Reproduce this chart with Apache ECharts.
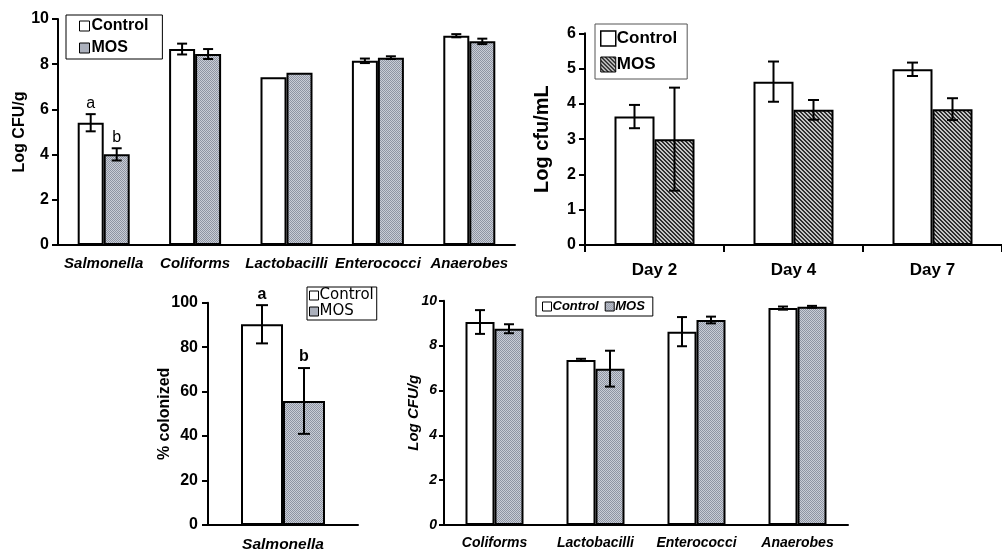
<!DOCTYPE html>
<html><head><meta charset="utf-8">
<script src="https://cdn.jsdelivr.net/npm/echarts@6/dist/echarts.min.js"></script>
<style>html,body{margin:0;padding:0;background:#fff}#c{width:1002px;height:553px}</style>
</head><body><div id="c"></div>
<script>
// ---- Panel 1 (top-left) ----
const cat1 = ['Salmonella','Coliforms','Lactobacilli','Enterococci','Anaerobes'];
const ctl1 = [5.41, 8.67, 7.42, 8.15, 9.26];
const ctl1Err = [0.38, 0.24, 0, 0.10, 0.07];
const mos1 = [4.01, 8.45, 7.62, 8.29, 9.01];
const mos1Err = [0.27, 0.22, 0, 0.06, 0.12];
const sig1Ctl = ['a','','','',''];
const sig1Mos = ['b','','','',''];
// ---- Panel 2 (top-right) ----
const cat2 = ['Day 2','Day 4','Day 7'];
const ctl2 = [3.64, 4.63, 4.98];
const ctl2Err = [0.33, 0.57, 0.19];
const mos2 = [3.00, 3.83, 3.85];
const mos2Err = [1.46, 0.28, 0.31];
// ---- Panel 3 (bottom-left) ----
const cat3 = ['Salmonella'];
const ctl3 = [90.3];
const ctl3Err = [8.6];
const mos3 = [55.8];
const mos3Err = [14.8];
const sig3Ctl = ['a'];
const sig3Mos = ['b'];
// ---- Panel 4 (bottom-right) ----
const cat4 = ['Coliforms','Lactobacilli','Enterococci','Anaerobes'];
const ctl4 = [9.05, 7.36, 8.62, 9.67];
const ctl4Err = [0.53, 0.05, 0.65, 0.07];
const mos4 = [8.75, 6.97, 9.14, 9.73];
const mos4Err = [0.20, 0.80, 0.15, 0.04];

const FF = '"Liberation Sans", Arial, sans-serif';

function checker(){
  const c = document.createElement('canvas'); c.width = 2; c.height = 2;
  const g = c.getContext('2d');
  g.fillStyle = '#c9cdd6'; g.fillRect(0,0,2,2);
  g.fillStyle = '#8e94a2'; g.fillRect(0,0,1,1); g.fillRect(1,1,1,1);
  return {image: c, repeat: 'repeat'};
}
function hatch(){
  const c = document.createElement('canvas'); c.width = 4; c.height = 4;
  const g = c.getContext('2d');
  g.fillStyle = '#c4c4c4'; g.fillRect(0,0,4,4);
  g.fillStyle = '#2e2e2e';
  for (let y=0;y<4;y++) for (let x=0;x<4;x++){ const d=((x-y)%4+4)%4; if(d===0||d===1) g.fillRect(x,y,1,1); }
  return {image: c, repeat: 'repeat'};
}
const CHK = checker();
const HAT = hatch();

function errSeries(idx, vals, errs, offset, cap, letters, fontCss){
  return {
    type: 'custom', xAxisIndex: idx, yAxisIndex: idx, z: 5, silent: true,
    data: vals.map((v,i)=>[i, v, errs[i]]),
    renderItem: function(params, api){
      const i = api.value(0), v = api.value(1), e = api.value(2);
      const x = api.coord([i, v])[0] + offset;
      const yT = api.coord([i, v + e])[1];
      const yB = api.coord([i, v - e])[1];
      const ch = [];
      if (e > 0){
        const st = {stroke:'#000', lineWidth:2};
        ch.push({type:'line', shape:{x1:x,y1:yT,x2:x,y2:yB}, style:st});
        ch.push({type:'line', shape:{x1:x-cap,y1:yT,x2:x+cap,y2:yT}, style:st});
        ch.push({type:'line', shape:{x1:x-cap,y1:yB,x2:x+cap,y2:yB}, style:st});
      }
      const L = letters ? letters[params.dataIndex] : '';
      if (L){
        ch.push({type:'text', x: x, y: yT - 3, style:{text:L, font:fontCss, fill:'#000',
          align:'center', verticalAlign:'bottom', textAlign:'center', textVerticalAlign:'bottom'}});
      }
      return {type:'group', children: ch};
    }
  };
}
function barSeries(idx, name, vals, fill, bw){
  return {type:'bar', name:name, xAxisIndex: idx, yAxisIndex: idx, data: vals, barWidth: bw, barGap: '0%',
    itemStyle:{color: fill, borderColor:'#000', borderWidth:2}, silent:true};
}

const grids = [
  {left:58, top:19, width:457, height:226},
  {left:585, top:33.3, width:426, height:211.7},
  {left:208, top:302.7, width:150, height:222.3},
  {left:444, top:300.7, width:404, height:224.3}
];
const axLine = {lineStyle:{color:'#000', width:2}};

const option = {
  backgroundColor:'#fff',
  animation:false,
  grid: grids,
  xAxis: [
    {gridIndex:0, type:'category', data:cat1, axisLine:axLine, axisTick:{show:false},
      axisLabel:{interval:0, margin:11, color:'#000', fontFamily:FF, fontSize:15, fontWeight:'bold', fontStyle:'italic'}},
    {gridIndex:1, type:'category', data:cat2, axisLine:axLine, axisTick:{show:true, length:7, lineStyle:{color:'#000', width:2}},
      axisLabel:{interval:0, margin:17, color:'#000', fontFamily:FF, fontSize:17, fontWeight:'bold'}},
    {gridIndex:2, type:'category', data:cat3, axisLine:axLine, axisTick:{show:false},
      axisLabel:{interval:0, margin:12, color:'#000', fontFamily:FF, fontSize:15.5, fontWeight:'bold', fontStyle:'italic'}},
    {gridIndex:3, type:'category', data:cat4, axisLine:axLine, axisTick:{show:false},
      axisLabel:{interval:0, margin:11, color:'#000', fontFamily:FF, fontSize:14, fontWeight:'bold', fontStyle:'italic'}}
  ],
  yAxis: [
    {gridIndex:0, type:'value', min:0, max:10, interval:2, splitLine:{show:false}, axisLine:{show:true, ...axLine},
      axisTick:{show:true, length:6, lineStyle:{color:'#000', width:2}},
      axisLabel:{margin:9, color:'#000', fontFamily:FF, fontSize:16, fontWeight:'bold'},
      name:'Log CFU/g', nameLocation:'middle', nameGap:30, nameMoveOverlap:false,
      nameTextStyle:{color:'#000', fontFamily:FF, fontSize:16, fontWeight:'bold'}},
    {gridIndex:1, type:'value', min:0, max:6, interval:1, splitLine:{show:false}, axisLine:{show:true, ...axLine},
      axisTick:{show:true, length:6, lineStyle:{color:'#000', width:2}},
      axisLabel:{margin:9, color:'#000', fontFamily:FF, fontSize:16, fontWeight:'bold'},
      name:'Log cfu/mL', nameLocation:'middle', nameGap:33, nameMoveOverlap:false,
      nameTextStyle:{color:'#000', fontFamily:FF, fontSize:20, fontWeight:'bold'}},
    {gridIndex:2, type:'value', min:0, max:100, interval:20, splitLine:{show:false}, axisLine:{show:true, ...axLine},
      axisTick:{show:true, length:6, lineStyle:{color:'#000', width:2}},
      axisLabel:{margin:10, color:'#000', fontFamily:FF, fontSize:16, fontWeight:'bold'},
      name:'% colonized', nameLocation:'middle', nameGap:35, nameMoveOverlap:false,
      nameTextStyle:{color:'#000', fontFamily:FF, fontSize:16, fontWeight:'bold'}},
    {gridIndex:3, type:'value', min:0, max:10, interval:2, splitLine:{show:false}, axisLine:{show:true, ...axLine},
      axisTick:{show:true, length:5, lineStyle:{color:'#000', width:2}},
      axisLabel:{margin:7, color:'#000', fontFamily:FF, fontSize:14, fontWeight:'bold', fontStyle:'italic'},
      name:'Log CFU/g', nameLocation:'middle', nameGap:23, nameMoveOverlap:false,
      nameTextStyle:{color:'#000', fontFamily:FF, fontSize:15, fontWeight:'bold', fontStyle:'italic'}}
  ],
  legend: [
    {left:66, top:15, orient:'vertical', icon:'rect', itemWidth:10, itemHeight:10, itemGap:6, padding:[3,14,3,13],
      borderColor:'#000', borderWidth:1, selectedMode:false,
      textStyle:{color:'#000', fontFamily:FF, fontSize:16, fontWeight:'bold', padding:[0,0,0,-3]},
      data:[{name:'Control', itemStyle:{color:'#fff', borderColor:'#000', borderWidth:1}},
            {name:'MOS', itemStyle:{color:CHK, borderColor:'#000', borderWidth:1}}]},
    {left:595, top:24, orient:'vertical', icon:'rect', itemWidth:15, itemHeight:15, itemGap:9, padding:[6,10,6,5],
      borderColor:'#555', borderWidth:1, selectedMode:false,
      textStyle:{color:'#000', fontFamily:FF, fontSize:17, fontWeight:'bold', padding:[0,0,0,-4]},
      data:[{name:'Control', itemStyle:{color:'#fff', borderColor:'#000', borderWidth:1.5}},
            {name:'MOS', itemStyle:{color:HAT, borderColor:'#000', borderWidth:1}}]},
    {left:307, top:287, orient:'vertical', icon:'rect', itemWidth:9, itemHeight:9, itemGap:1, padding:[1,3,1,2],
      borderColor:'#000', borderWidth:1, selectedMode:false,
      textStyle:{color:'#000', fontFamily:'"DejaVu Sans", sans-serif', fontSize:15, padding:[0,0,0,-4]},
      data:[{name:'Control', itemStyle:{color:'#fff', borderColor:'#000', borderWidth:1}},
            {name:'MOS', itemStyle:{color:CHK, borderColor:'#000', borderWidth:1}}]},
    {left:536, top:297, orient:'horizontal', icon:'rect', itemWidth:9, itemHeight:9, itemGap:6, padding:[3,8,3,6],
      borderColor:'#000', borderWidth:1, selectedMode:false,
      textStyle:{color:'#000', fontFamily:FF, fontSize:13, fontWeight:'bold', fontStyle:'italic', padding:[0,0,0,-4]},
      data:[{name:'Control', itemStyle:{color:'#fff', borderColor:'#000', borderWidth:1}},
            {name:'MOS', itemStyle:{color:CHK, borderColor:'#000', borderWidth:1}}]}
  ],
  series: [
    barSeries(0,'Control',ctl1,'#fff',26), barSeries(0,'MOS',mos1,CHK,26),
    errSeries(0, ctl1, ctl1Err, -13, 5, sig1Ctl, '16px '+FF),
    errSeries(0, mos1, mos1Err, 13, 5, sig1Mos, '16px '+FF),
    barSeries(1,'Control',ctl2,'#fff',40), barSeries(1,'MOS',mos2,HAT,40),
    errSeries(1, ctl2, ctl2Err, -20, 5.5, null, ''),
    errSeries(1, mos2, mos2Err, 20, 5.5, null, ''),
    barSeries(2,'Control',ctl3,'#fff',42), barSeries(2,'MOS',mos3,CHK,42),
    errSeries(2, ctl3, ctl3Err, -21, 6, sig3Ctl, 'bold 16px '+FF),
    errSeries(2, mos3, mos3Err, 21, 6, sig3Mos, 'bold 16px '+FF),
    barSeries(3,'Control',ctl4,'#fff',29), barSeries(3,'MOS',mos4,CHK,29),
    errSeries(3, ctl4, ctl4Err, -14.5, 5, null, ''),
    errSeries(3, mos4, mos4Err, 14.5, 5, null, '')
  ]
};
const chart = echarts.init(document.getElementById('c'), null, {renderer:'canvas'});
chart.setOption(option);
</script>
</body></html>
